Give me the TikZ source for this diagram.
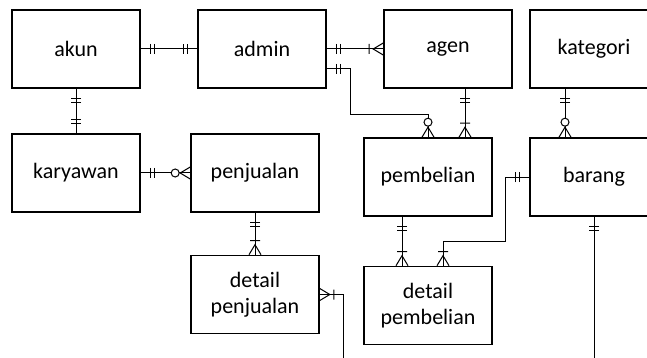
\documentclass[tikz,border=0pt]{standalone}
\usepackage{fontspec}
\setmainfont{Carlito}
\tikzset{
  entity/.style={draw, line width=1.6pt, minimum width=128pt, minimum height=78pt,
    inner sep=0pt, align=center, font=\fontsize{22}{26}\selectfont},
  rel/.style={line width=1pt},
  % relationship ends, drawn along +x away from the entity border
  mone/.pic={\draw[rel] (10,-5) -- (10,5) (14,-5) -- (14,5);},
  onemany/.pic={\draw[rel] (0,-6) -- (10,0) -- (0,6) (14,-5) -- (14,5);},
  zeromany/.pic={\draw[rel] (0,-6) -- (10,0) -- (0,6);
    \draw[rel, fill=white] (15,0) circle (4pt);},
}
\begin{document}
\begin{tikzpicture}[x=1pt, y=-1pt]
\useasboundingbox (0,0) rectangle (647,358);
\clip (0,0) rectangle (647,358);

% entities
\node[entity] (akun)     at (76,49)   {akun};
\node[entity] (admin)    at (262,49)  {admin};
\node[entity] (agen)     at (448,49)  {agen};
\node[entity] (kategori) at (594,49)  {kategori};
\node[entity] (karyawan) at (76,173)  {karyawan};
\node[entity] (penjualan) at (255,173) {penjualan};
\node[entity] (dpj)      at (255,294.5) {detail\\penjualan};
\node[entity] (pembelian) at (428,177) {pembelian};
\node[entity] (barang)   at (594,177) {barang};
\node[entity] (dpb)      at (428,305.5) {detail\\pembelian};

% free ends of the relations leaving the page
\coordinate (outA) at (343,372);
\coordinate (outB) at (594,372);

% akun -- admin
\draw[rel] (akun) -- (admin);
\pic[rotate=0] at (akun.east) {mone};
\pic[rotate=180] at (admin.west) {mone};

% admin -- agen
\draw[rel] (admin) -- (agen);
\pic[rotate=0] at (admin.east) {mone};
\pic[rotate=180] at (agen.west) {onemany};

% admin -- pembelian
\draw[rel] ([yshift=-20pt]admin.east) -- ++(24,0) |- ([yshift=23pt]pembelian.north) -- (pembelian.north);
\pic[rotate=0] at ([yshift=-20pt]admin.east) {mone};
\pic[rotate=90] at (pembelian.north) {zeromany};

% agen -- pembelian
\draw[rel] ([xshift=17pt]agen.south) -- ([xshift=37pt]pembelian.north);
\pic[rotate=-90] at ([xshift=17pt]agen.south) {mone};
\pic[rotate=90] at ([xshift=37pt]pembelian.north) {onemany};

% kategori -- barang
\draw[rel] ([xshift=-29pt]kategori.south) -- ([xshift=-29pt]barang.north);
\pic[rotate=-90] at ([xshift=-29pt]kategori.south) {mone};
\pic[rotate=90] at ([xshift=-29pt]barang.north) {zeromany};

% akun -- karyawan
\draw[rel] (akun) -- (karyawan);
\pic[rotate=-90] at (akun.south) {mone};
\pic[rotate=90] at (karyawan.north) {mone};

% karyawan -- penjualan
\draw[rel] (karyawan) -- (penjualan);
\pic[rotate=0] at (karyawan.east) {mone};
\pic[rotate=180] at (penjualan.west) {zeromany};

% penjualan -- detail penjualan
\draw[rel] (penjualan) -- (dpj);
\pic[rotate=-90] at (penjualan.south) {mone};
\pic[rotate=90] at (dpj.north) {onemany};

% detail penjualan -- (below)
\draw[rel] (dpj.east) -| (outA);
\pic[rotate=0] at (dpj.east) {onemany};

% pembelian -- detail pembelian
\draw[rel] ([xshift=-26pt]pembelian.south) -- ([xshift=-26pt]dpb.north);
\pic[rotate=-90] at ([xshift=-26pt]pembelian.south) {mone};
\pic[rotate=90] at ([xshift=-26pt]dpb.north) {onemany};

% barang -- detail pembelian
\draw[rel] (barang.west) -- ++(-24,0) |- ([xshift=15pt,yshift=24pt]dpb.north) -- ([xshift=15pt]dpb.north);
\pic[rotate=180] at (barang.west) {mone};
\pic[rotate=90] at ([xshift=15pt]dpb.north) {onemany};

% barang -- (below)
\draw[rel] (barang) -- (outB);
\pic[rotate=-90] at (barang.south) {mone};
\end{tikzpicture}
\end{document}
